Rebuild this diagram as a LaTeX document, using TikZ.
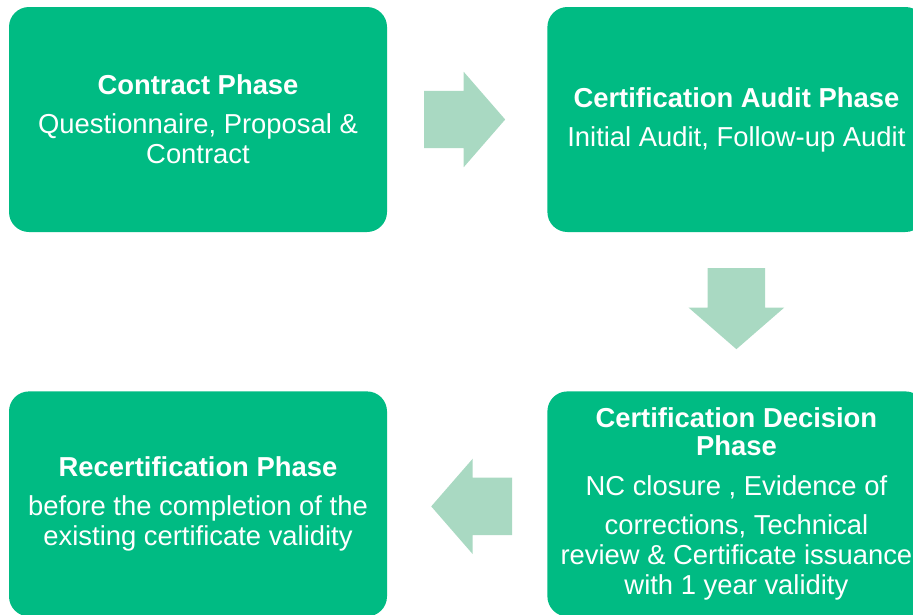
\documentclass[tikz,border=0pt]{standalone}
\usepackage{fontspec}
\setmainfont{Liberation Sans}
\usepackage{tikz}
\usetikzlibrary{shapes.arrows,positioning,calc}
\definecolor{phasegreen}{RGB}{0,187,131}
\definecolor{flowgreen}{RGB}{169,217,194}

\begin{document}
\begin{tikzpicture}[x=1pt,y=-1pt]
\tikzstyle{phase}=[rectangle,rounded corners=20pt,fill=phasegreen,text=white,minimum width=378pt,minimum height=225pt,inner sep=0pt,align=center,font=\fontsize{27.4}{30}\selectfont]
\tikzstyle{flow}=[single arrow,fill=flowgreen,minimum height=81pt,minimum width=95pt,single arrow head extend=19pt,single arrow tip angle=98,single arrow head indent=0pt,inner xsep=0pt,inner ysep=28.5pt]
\tikzstyle{flowdown}=[flow,shape border rotate=270,inner xsep=28.5pt,inner ysep=0pt]

\useasboundingbox (0,0) rectangle (913,614);

\node[phase] (contract) at (198,119.5) {\textbf{Contract Phase}\\[9pt]Questionnaire, Proposal \&\\Contract};
\node[phase,right=160pt of contract] (audit) {\textbf{Certification Audit Phase}\\[9pt]Initial Audit, Follow-up Audit};
\node[phase,below=159pt of audit] (decision) {\textbf{Certification Decision}\\[-2pt]\textbf{Phase}\\[10pt]NC closure , Evidence of\\[9pt]corrections, Technical\\review \& Certificate issuance\\with 1 year validity};
\node[phase,left=160pt of decision] (recert) {\textbf{Recertification Phase}\\[9pt]before the completion of the\\existing certificate validity};

\node[flow,xshift=-15pt] (toaudit) at ($(contract.east)!0.5!(audit.west)$) {};
\node[flowdown,yshift=15.5pt] (todecision) at ($(audit.south)!0.5!(decision.north)$) {};
\node[flow,shape border rotate=180,xshift=17pt,yshift=-2.5pt] (torecert) at ($(decision.west)!0.5!(recert.east)$) {};
\end{tikzpicture}
\end{document}
